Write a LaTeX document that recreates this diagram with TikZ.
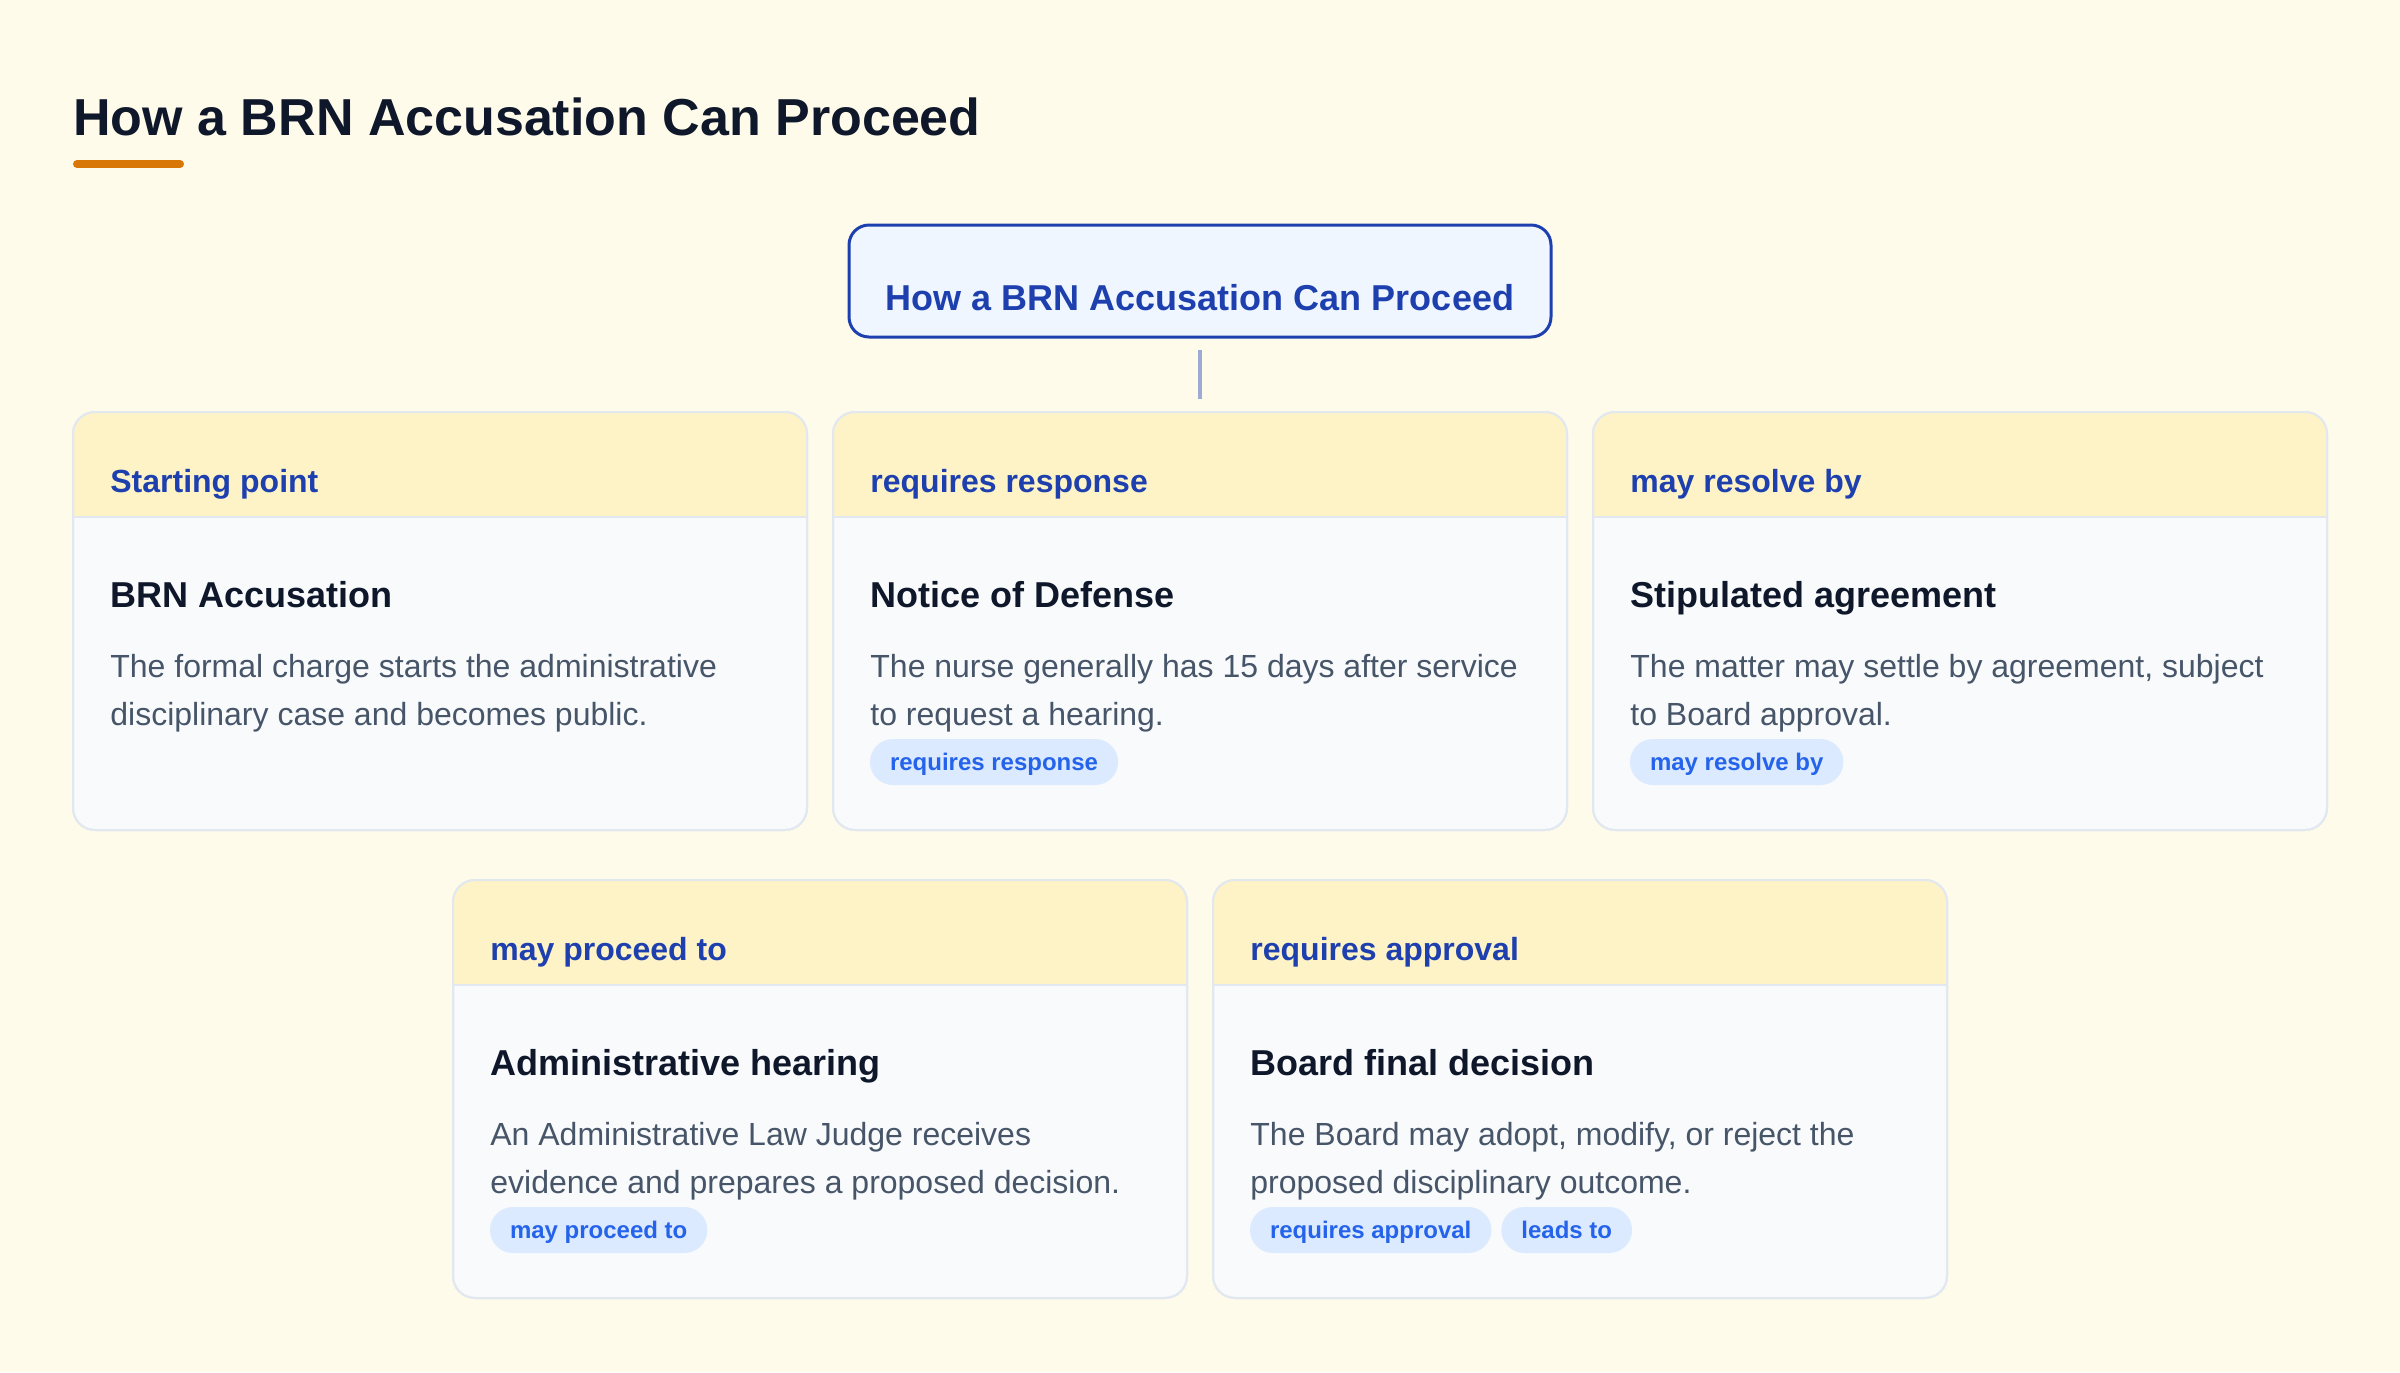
\documentclass[tikz,border=0pt]{standalone}
\usepackage{fontspec}
\setmainfont{Liberation Sans}
\definecolor{bg}{HTML}{FFFBEB}
\definecolor{cardhead}{HTML}{FEF3C7}
\definecolor{cardbody}{HTML}{F8FAFC}
\definecolor{cardline}{HTML}{E2E8F0}
\definecolor{navy}{HTML}{0F172A}
\definecolor{headblue}{HTML}{1E40AF}
\definecolor{slate}{HTML}{475569}
\definecolor{pillfill}{HTML}{DBEAFE}
\definecolor{pilltxt}{HTML}{2563EB}
\definecolor{topfill}{HTML}{EFF6FF}
\definecolor{connc}{HTML}{9DAAD4}
\definecolor{accent}{HTML}{D97706}
\tikzset{
  cardbox/.style={draw=cardline, line width=1pt, fill=cardbody, rounded corners=11pt,
    minimum width=367pt, minimum height=209pt, inner sep=0pt, outer sep=0pt},
  headtxt/.style={anchor=base west, inner sep=0pt, text=headblue, font=\bfseries\fontsize{16}{19}\selectfont},
  titletxt/.style={anchor=base west, inner sep=0pt, text=navy, font=\bfseries\fontsize{18}{22}\selectfont},
  desctxt/.style={anchor=base west, inner sep=0pt, text=slate, font=\fontsize{16}{19}\selectfont},
  pill/.style={anchor=west, fill=pillfill, text=pilltxt, font=\bfseries\fontsize{12}{14}\selectfont,
    rounded corners=11.5pt, inner xsep=10pt, inner ysep=0pt, minimum height=23pt,
    text height=8.6pt, text depth=0pt, outer sep=0pt},
  topnode/.style={draw=headblue, line width=1.5pt, fill=topfill, rounded corners=10pt,
    minimum width=351pt, minimum height=56pt, text height=29pt, text depth=0pt,
    text=headblue, font=\bfseries\fontsize{18}{22}\selectfont, outer sep=0pt},
  conn/.style={draw=connc, line width=2pt},
}
\newcommand\mkcard[7]{%
  \node[cardbox] (#1) at (#2,#3) {};
  \begin{scope}
    \clip[rounded corners=11pt] (#1.north west) rectangle (#1.south east);
    \fill[cardhead] (#1.north west) rectangle ([yshift=-52.5pt]#1.north east);
  \end{scope}
  \draw[cardline, line width=1pt] ([yshift=-52.5pt]#1.north west) -- ([yshift=-52.5pt]#1.north east);
  \draw[cardline, line width=1pt, rounded corners=11pt] (#1.north west) rectangle (#1.south east);
  \node[headtxt] (#1h) at ([xshift=18.5pt,yshift=-40pt]#1.north west) {#4};
  \node[titletxt] (#1t) at ([xshift=18.5pt,yshift=-97.5pt]#1.north west) {#5};
  \node[desctxt] (#1d) at ([xshift=18.5pt,yshift=-132.5pt]#1.north west) {#6};
  \node[desctxt] (#1e) at ([xshift=18.5pt,yshift=-156.5pt]#1.north west) {#7};
}
\begin{document}
\begin{tikzpicture}[x=0.5pt,y=-0.5pt]
\useasboundingbox[fill=bg] (0,0) rectangle (2400,1372);
% title
\node[anchor=base west, inner sep=0pt, text=navy, font=\bfseries\fontsize{26}{31}\selectfont] (title) at (73,135) {How a BRN Accusation Can Proceed};
\coordinate (ulA) at (77,164);
\coordinate (ulB) at (180,164);
\draw[accent, line width=4pt, line cap=round] (ulA) -- (ulB);
% top node
\node[topnode] (top) at (1200,281) {How a BRN Accusation Can Proceed};
% cards
\mkcard{c1}{440}{621}{Starting point}{BRN Accusation}{The formal charge starts the administrative}{disciplinary case and becomes public.}
\mkcard{c2}{1200}{621}{requires response}{Notice of Defense}{The nurse generally has 15 days after service}{to request a hearing.}
\mkcard{c3}{1960}{621}{may resolve by}{Stipulated agreement}{The matter may settle by agreement, subject}{to Board approval.}
\mkcard{c4}{820}{1089}{may proceed to}{Administrative hearing}{An Administrative Law Judge receives}{evidence and prepares a proposed decision.}
\mkcard{c5}{1580}{1089}{requires approval}{Board final decision}{The Board may adopt, modify, or reject the}{proposed disciplinary outcome.}
% pills
\node[pill] (c2p) at ([xshift=18.5pt,yshift=-175pt]c2.north west) {requires response};
\node[pill] (c3p) at ([xshift=18.5pt,yshift=-175pt]c3.north west) {may resolve by};
\node[pill] (c4p) at ([xshift=18.5pt,yshift=-175pt]c4.north west) {may proceed to};
\node[pill] (c5p) at ([xshift=18.5pt,yshift=-175pt]c5.north west) {requires approval};
\node[pill] (c5q) at ([xshift=5pt]c5p.east) {leads to};
% connector
\draw[conn, shorten <=6.5pt, shorten >=6.5pt] (top.south) -- (c2.north);
\end{tikzpicture}
\end{document}
